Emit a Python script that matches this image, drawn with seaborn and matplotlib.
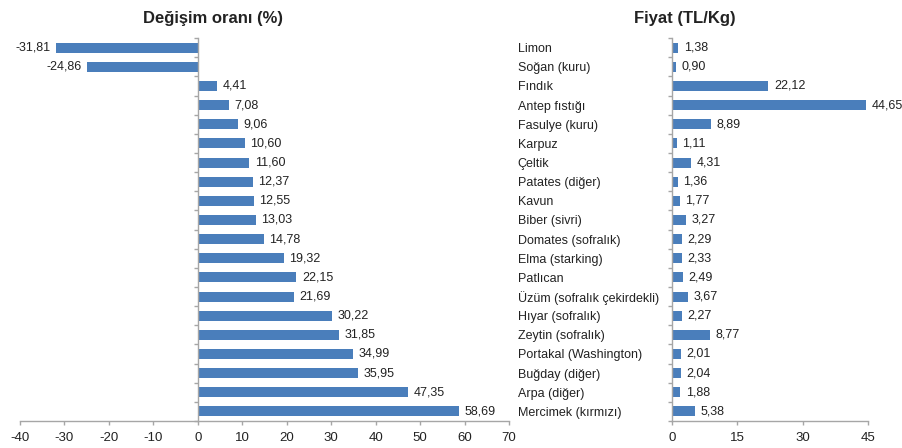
import numpy as np
import pandas as pd
import matplotlib.pyplot as plt
from matplotlib.ticker import FixedLocator
import seaborn as sns

sns.set_style("white")
plt.rcParams["font.family"] = ["Liberation Sans", "DejaVu Sans"]

urunler = [
    "Limon", "Soğan (kuru)", "Fındık", "Antep fıstığı", "Fasulye (kuru)",
    "Karpuz", "Çeltik", "Patates (diğer)", "Kavun", "Biber (sivri)",
    "Domates (sofralık)", "Elma (starking)", "Patlıcan",
    "Üzüm (sofralık çekirdekli)", "Hıyar (sofralık)", "Zeytin (sofralık)",
    "Portakal (Washington)", "Buğday (diğer)", "Arpa (diğer)",
    "Mercimek (kırmızı)",
]
degisim = [
    -31.81, -24.86, 4.41, 7.08, 9.06, 10.60, 11.60, 12.37, 12.55, 13.03,
    14.78, 19.32, 22.15, 21.69, 30.22, 31.85, 34.99, 35.95, 47.35, 58.69,
]
fiyat = [
    1.38, 0.90, 22.12, 44.65, 8.89, 1.11, 4.31, 1.36, 1.77, 3.27,
    2.29, 2.33, 2.49, 3.67, 2.27, 8.77, 2.01, 2.04, 1.88, 5.38,
]
sol_ticks = [-40, -30, -20, -10, 0, 10, 20, 30, 40, 50, 60, 70]
sag_ticks = [0, 15, 30, 45]

df = pd.DataFrame({"urun": urunler, "degisim": degisim, "fiyat": fiyat})

BAR = "#4A7EBB"
TXT = "#222222"
SPINE = "#A6A6A6"


def tr(v):
    return f"{v:.2f}".replace(".", ",")


def style_axis(ax):
    for s in ["top", "right"]:
        ax.spines[s].set_visible(False)
    for s in ["left", "bottom"]:
        ax.spines[s].set_color(SPINE)
        ax.spines[s].set_linewidth(1.0)
    ax.spines["left"].set_position(("data", 0))
    ax.set_xlabel("")
    ax.set_ylabel("")
    ax.yaxis.set_minor_locator(FixedLocator(np.arange(-0.5, len(urunler), 1)))
    ax.tick_params(axis="y", which="minor", length=3, color=SPINE, width=1.0, left=True)
    ax.tick_params(axis="y", which="major", length=0)
    ax.tick_params(axis="x", which="major", direction="out", length=3, color=SPINE,
                   width=1.0, labelsize=9.5, labelcolor=TXT, pad=5, bottom=True)


fig = plt.figure(figsize=(9.03, 4.48), dpi=100)
ax1 = fig.add_axes([0.0221, 0.0603, 0.5416, 0.8547])
ax2 = fig.add_axes([0.7442, 0.0603, 0.2170, 0.8547])

# sol panel: degisim orani
sns.barplot(data=df, x="degisim", y="urun", orient="h", color=BAR,
            saturation=1, width=0.52, linewidth=0, ax=ax1)
ax1.set_xlim(-40, 70)
ax1.set_xticks(sol_ticks)
ax1.set_xticklabels([str(t) for t in sol_ticks])
ax1.set_yticklabels([])
style_axis(ax1)
ax1.bar_label(ax1.containers[0], labels=[tr(v) for v in degisim],
              padding=4, fontsize=9, color=TXT)
ax1.set_title("Değişim oranı (%)", fontsize=12, fontweight="bold",
              color=TXT, x=0.395, pad=11)

# sag panel: fiyat
sns.barplot(data=df, x="fiyat", y="urun", orient="h", color=BAR,
            saturation=1, width=0.52, linewidth=0, ax=ax2)
ax2.set_xlim(0, 45)
ax2.set_xticks(sag_ticks)
ax2.set_xticklabels([str(t) for t in sag_ticks])
style_axis(ax2)
ax2.set_yticklabels(urunler, ha="left", fontsize=9, color=TXT)
ax2.tick_params(axis="y", which="major", pad=111)
ax2.bar_label(ax2.containers[0], labels=[tr(v) for v in fiyat],
              padding=4, fontsize=9, color=TXT)
ax2.set_title("Fiyat (TL/Kg)", fontsize=12, fontweight="bold",
              color=TXT, x=0.066, pad=11)

fig.savefig("out.png", dpi=100)
